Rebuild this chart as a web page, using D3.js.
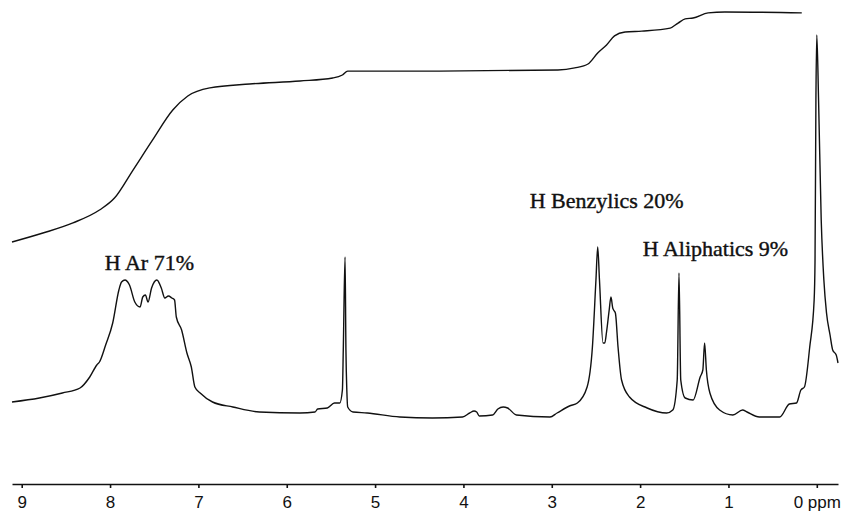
<!DOCTYPE html>
<html>
<head>
<meta charset="utf-8">
<script src="https://cdn.jsdelivr.net/npm/d3@7"></script>
<style>
  body { margin: 0; background: #fff; }
</style>
</head>
<body>
<script>
var w = 850;
var h = 514;

// spectrum: chemical shift (ppm) and signal height
var specPpm = [9.11, 8.80, 8.54, 8.34, 8.23, 8.15, 8.12, 8.05, 7.97, 7.90, 7.87, 7.83, 7.80, 7.78,
  7.72, 7.66, 7.63, 7.60, 7.57, 7.53, 7.47, 7.42, 7.38, 7.34, 7.30, 7.27, 7.25, 7.19, 7.13,
  7.08, 7.04, 6.98, 6.84, 6.61, 6.31, 5.85, 5.68, 5.65, 5.54, 5.46, 5.40, 5.37, 5.36, 5.34,
  5.33, 5.32, 5.31, 5.25, 5.09, 4.72, 4.35, 4.01, 3.93, 3.88, 3.85, 3.82, 3.67, 3.61, 3.55,
  3.50, 3.40, 3.02, 2.94, 2.80, 2.71, 2.60, 2.54, 2.50, 2.48, 2.46, 2.42, 2.40, 2.38, 2.35,
  2.33, 2.31, 2.30, 2.28, 2.25, 2.21, 2.12, 1.92, 1.70, 1.63, 1.58, 1.56, 1.54, 1.49, 1.40,
  1.32, 1.29, 1.27, 1.25, 1.21, 1.10, 0.95, 0.84, 0.79, 0.65, 0.42, 0.31, 0.23, 0.18, 0.14,
  0.08, 0.03, 0.02, 0.01, 0.00, -0.02, -0.05, -0.08, -0.11, -0.15, -0.18, -0.22, -0.24];
var specInt = [18, 22, 27, 32, 43, 55, 58, 75, 97, 130, 138, 140, 138, 135,
  118, 113, 123, 125, 118, 132, 140, 132, 122, 124, 122, 120, 103, 90, 67,
  53, 33, 27, 18, 13, 8, 7, 8, 11, 12, 17, 17, 30, 70, 163,
  70, 30, 13, 8, 7, 3, 2, 3, 7, 9, 8, 4, 5, 11, 13,
  12, 5, 3, 7, 14, 17, 33, 73, 140, 173, 140, 77, 77, 88, 110,
  123, 112, 110, 107, 73, 40, 23, 12, 7, 10, 40, 147, 40, 22, 20,
  43, 50, 77, 50, 27, 10, 5, 10, 8, 3, 3, 16, 17, 30, 33,
  73, 120, 160, 320, 385, 320, 200, 140, 107, 85, 70, 65, 57];

// integral trace (percent of total)
var intPpm = [9.11, 8.76, 8.42, 8.12, 7.95, 7.74, 7.52, 7.29, 7.12, 6.87, 6.42, 5.85, 5.48,
  5.37, 5.31, 4.44, 2.93, 2.74, 2.59, 2.48, 2.38, 2.29, 2.17, 1.98, 1.66, 1.57, 1.49, 1.40,
  1.23, 1.04, 0.17];
var intVal = [0, 3.9, 8.3, 13.9, 19.1, 31.3, 44.3, 57.4, 63.5, 67.0, 68.7, 70.0, 71.3,
  72.6, 74.3, 74.3, 74.8, 75.7, 77.4, 82.2, 85.7, 89.6, 91.3, 91.7, 93.0, 95.2, 97.0, 97.4,
  99.6, 100, 99.6];

var ticks = [9, 8, 7, 6, 5, 4, 3, 2, 1, 0];

var labels = ["H Ar 71%", "H Benzylics 20%", "H Aliphatics 9%"];
var labelPpm = [8.06, 3.25, 1.97];
var labelInt = [150, 212, 164];

var spectrum = specPpm.map(function(p, i) { return { ppm: p, v: specInt[i] }; });
var integral = intPpm.map(function(p, i) { return { ppm: p, v: intVal[i] }; });

var xScale = d3.scaleLinear()
	.domain([9.11, -0.24])
	.range([12, 838]);

var yScale = d3.scaleLinear()
	.domain([0, 385])
	.range([420, 35]);

var yInt = d3.scaleLinear()
	.domain([0, 100])
	.range([242, 12]);

var svg = d3.select("body")
	.append("svg")
	.attr("width", w)
	.attr("height", h);

var specLine = d3.line()
	.x(function(d) { return xScale(d.ppm); })
	.y(function(d) { return yScale(d.v); })
	.curve(d3.curveMonotoneX);

var intLine = d3.line()
	.x(function(d) { return xScale(d.ppm); })
	.y(function(d) { return yInt(d.v); })
	.curve(d3.curveMonotoneX);

svg.append("path")
	.datum(integral)
	.attr("d", intLine)
	.attr("fill", "none")
	.attr("stroke", "#111")
	.attr("stroke-width", 1.4);

svg.append("path")
	.datum(spectrum)
	.attr("d", specLine)
	.attr("fill", "none")
	.attr("stroke", "#111")
	.attr("stroke-width", 1.4)
	.attr("stroke-linejoin", "round");

// axis
var axis = d3.axisBottom(xScale)
	.tickValues(ticks)
	.tickSize(4)
	.tickSizeOuter(0)
	.tickPadding(8)
	.tickFormat(function(d) { return d === 0 ? "0 ppm" : d; });

var gx = svg.append("g")
	.attr("transform", "translate(0,484)")
	.call(axis);

gx.select(".domain").attr("stroke", "#111").attr("stroke-width", 1.6);
gx.selectAll(".tick line").attr("stroke", "#111").attr("stroke-width", 1.6);
gx.selectAll(".tick text")
	.attr("font-family", "Liberation Sans, Arial, sans-serif")
	.attr("font-size", "17px")
	.attr("fill", "#111");

// peak group labels
svg.selectAll("text.lab")
	.data(labels)
	.enter()
	.append("text")
	.attr("class", "lab")
	.text(function(d) { return d; })
	.attr("x", function(d, i) { return xScale(labelPpm[i]); })
	.attr("y", function(d, i) { return yScale(labelInt[i]); })
	.attr("font-family", "Liberation Serif, Times New Roman, serif")
	.attr("font-size", "22px")
	.attr("fill", "#111")
	.attr("stroke", "#111")
	.attr("stroke-width", 0.4);
</script>
</body>
</html>
